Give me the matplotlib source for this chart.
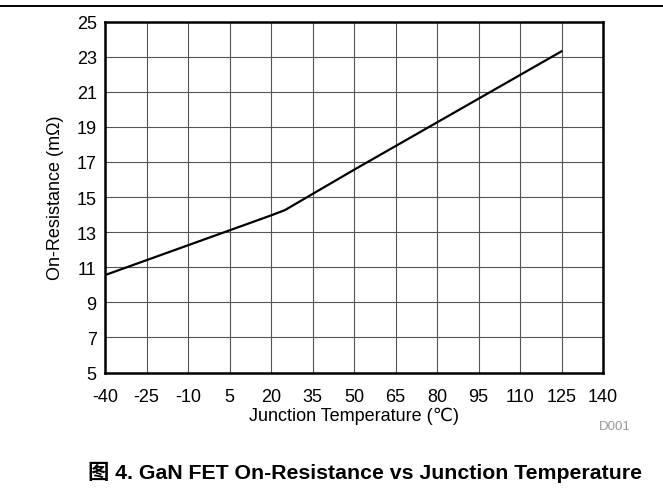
import matplotlib
matplotlib.use("Agg")
import matplotlib.pyplot as plt
from matplotlib.lines import Line2D

# 数据：结温 vs 导通电阻
temp_c = [-40, -25, -10, 5, 20, 25, 35, 50, 65, 80, 95, 110, 125]
rds_on = [10.55, 11.4, 12.25, 13.1, 13.95, 14.25, 15.17, 16.55, 17.9, 19.25, 20.6, 21.95, 23.3]

x_ticks = list(range(-40, 141, 15))
y_ticks = list(range(5, 26, 2))

x_label = "Junction Temperature (\u2103)"
y_label = "On-Resistance (m\u03a9)"
caption = "图 4. GaN FET On-Resistance vs Junction Temperature"
tag = "D001"

plt.rcParams['font.family'] = ['Liberation Sans', 'DejaVu Sans']
plt.rcParams['font.size'] = 13
plt.rcParams['axes.unicode_minus'] = False

fig = plt.figure(figsize=(6.63, 4.89), dpi=100)
ax = fig.add_axes([105 / 663, 1 - 373.5 / 489, 498 / 663, 351 / 489])

# 曲线
ax.plot(temp_c, rds_on, color='black', lw=1.6, solid_joinstyle='round', zorder=3)

ax.set_xlim(-40, 140)
ax.set_ylim(5, 25)
ax.set_xticks(x_ticks)
ax.set_yticks(y_ticks)
ax.tick_params(length=0, labelsize=13)
ax.tick_params(axis='y', pad=6)
ax.tick_params(axis='x', pad=11)
ax.grid(True, color='#555555', lw=0.8)
for s in ax.spines.values():
    s.set_linewidth(1.8)
    s.set_color('black')

ax.set_xlabel(x_label, fontsize=13)
ax.xaxis.set_label_coords(0.5, -0.098)
ax.set_ylabel(y_label, fontsize=13)
ax.yaxis.set_label_coords(-0.082, 0.5)

# 右下角标记
fig.text(615 / 663, 1 - 427 / 489, tag, fontsize=9.5, color='#999999', ha='center', va='center')

# 顶部分隔线
fig.add_artist(Line2D([0, 1], [1 - 7 / 489, 1 - 7 / 489], color='black', lw=1.4))

# 图标题
fig.text(642 / 663, 1 - 472 / 489, caption, fontsize=15.3, fontweight='bold',
         family=['Liberation Sans', 'Noto Sans CJK SC'], ha='right', va='center')

fig.savefig("out.png", dpi=100)
